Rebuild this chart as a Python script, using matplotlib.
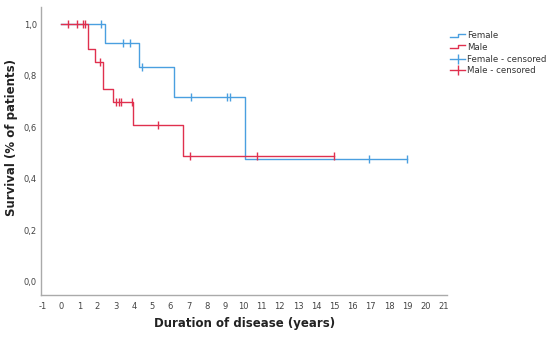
import numpy as np
import matplotlib
matplotlib.use('Agg')
import matplotlib.pyplot as plt
from matplotlib.lines import Line2D
from matplotlib.legend_handler import HandlerBase

# Kaplan-Meier steps
female_t = [0, 2.41, 4.29, 6.19, 10.1, 19.0]
female_s = [1.0, 0.928, 0.835, 0.716, 0.478, 0.478]
female_cens = [2.17, 3.42, 3.78, 4.47, 7.12, 9.08, 9.26, 16.9, 19.0]

male_t = [0, 1.5, 1.86, 2.32, 2.83, 3.96, 6.7, 15.0]
male_s = [1.0, 0.905, 0.853, 0.748, 0.696, 0.609, 0.487, 0.487]
male_cens = [0.4, 0.9, 1.2, 1.3, 2.14, 3.0, 3.2, 3.27, 3.87, 5.3, 7.07, 10.74, 14.98]

x_ticks = list(range(-1, 22))
y_ticks = [0.0, 0.2, 0.4, 0.6, 0.8, 1.0]
y_ticklabels = ['0,0', '0,2', '0,4', '0,6', '0,8', '1,0']

c_f = '#4a9fe0'
c_m = '#e0304e'


def surv_at(t, times, surv):
    idx = np.searchsorted(times, t, side='right') - 1
    return np.array(surv)[idx]


class StepHandler(HandlerBase):
    def create_artists(self, legend, orig, xd, yd, w, h, fs, trans):
        xs = [xd, xd + w * 0.55, xd + w * 0.55, xd + w]
        ys = [yd + h * 0.25, yd + h * 0.25, yd + h * 0.8, yd + h * 0.8]
        ln = Line2D(xs, ys, color=orig.get_color(), lw=1.0, transform=trans)
        return [ln]


fig = plt.figure(figsize=(5.5, 3.38), dpi=100)
ax = fig.add_axes([0.0745, 0.127, 0.739, 0.852])

ax.step(female_t, female_s, where='post', color=c_f, lw=1.0)
ax.step(male_t, male_s, where='post', color=c_m, lw=1.0)
ax.plot(female_cens, surv_at(female_cens, female_t, female_s), ls='none',
        marker='|', ms=6, mew=1.0, color=c_f)
ax.plot(male_cens, surv_at(male_cens, male_t, male_s), ls='none',
        marker='|', ms=6, mew=1.0, color=c_m)

ax.set_xlim(-1.1, 21.2)
ax.set_ylim(-0.052, 1.066)
ax.set_xticks(x_ticks)
ax.set_xticklabels([str(v) for v in x_ticks])
ax.set_yticks(y_ticks)
ax.set_yticklabels(y_ticklabels)
ax.tick_params(length=0, labelsize=6, labelcolor='#444444')
ax.tick_params(axis='x', pad=5)
ax.tick_params(axis='y', pad=3)
for s in ['top', 'right']:
    ax.spines[s].set_visible(False)
for s in ['left', 'bottom']:
    ax.spines[s].set_color('#aaaaaa')
    ax.spines[s].set_linewidth(1.0)

fig.text(0.444, 1 - 324 / 338, 'Duration of disease (years)', ha='center', va='center',
         fontsize=8.5, fontweight='bold', color='#222222')
fig.text(12 / 550, 1 - 137 / 338, 'Survival (% of patients)', ha='center', va='center',
         rotation=90, fontsize=8.5, fontweight='bold', color='#222222')

h_f = Line2D([], [], color=c_f)
h_m = Line2D([], [], color=c_m)
h_fc = Line2D([], [], color=c_f, marker='|', ms=7, lw=1.0)
h_mc = Line2D([], [], color=c_m, marker='|', ms=7, lw=1.0)
fig.legend([h_f, h_m, h_fc, h_mc], ['Female', 'Male', 'Female - censored', 'Male - censored'],
           handler_map={h_f: StepHandler(), h_m: StepHandler()},
           loc='upper left', bbox_to_anchor=(0.808, 0.925), frameon=False,
           fontsize=6.2, handlelength=1.7, handletextpad=0.2, labelspacing=0.3,
           borderpad=0.2, labelcolor='#333333')

fig.savefig('out.png', dpi=100)
